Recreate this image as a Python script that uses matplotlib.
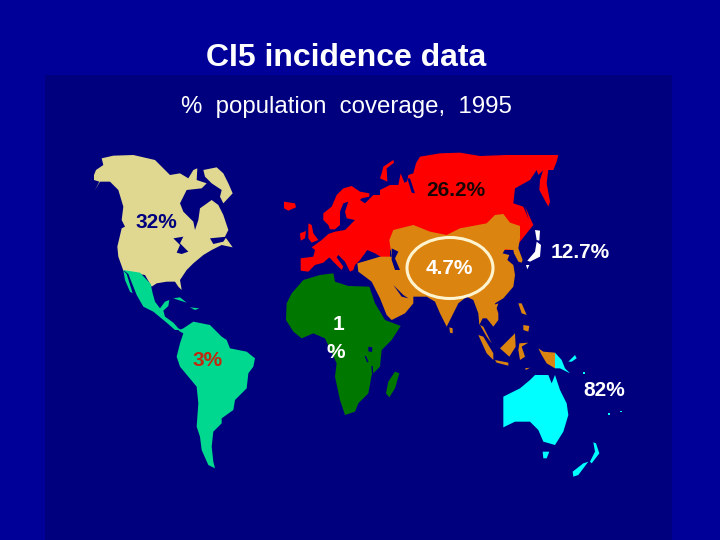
import matplotlib
matplotlib.use("Agg")
import matplotlib.pyplot as plt
from matplotlib.patches import Ellipse, Rectangle

plt.rcParams['font.family'] = ['Liberation Sans', 'DejaVu Sans']

# outlines, in 3x crop coordinates
AMERICAS = (80, 140)
MEXICO = (110, 260)
EUROPE = (280, 170)
SIBERIA = (380, 150)
EURASIA = (270, 140)
PACIFIC = (440, 200)

north_america = [(42, 105), (48, 90), (70, 75), (65, 55), (100, 47), (160, 45), (225, 60), (250, 85), (270, 105),
                 (300, 100), (325, 115), (340, 90), (352, 85), (350, 120), (380, 130), (365, 145), (320, 150),
                 (300, 190), (310, 215), (340, 245), (345, 270), (355, 240), (360, 205), (395, 180), (415, 195),
                 (430, 225), (445, 270), (435, 290), (458, 322), (425, 315), (395, 330), (370, 345), (340, 370),
                 (320, 390), (300, 420), (305, 450), (295, 440), (285, 425), (260, 425), (230, 430), (215, 440),
                 (195, 405), (165, 400), (130, 392), (115, 350), (112, 320), (125, 265), (135, 260), (125, 240),
                 (130, 200), (115, 150), (90, 125), (60, 125), (45, 150), (58, 125), (42, 120)]
baffin = [(370, 90), (410, 82), (430, 100), (445, 130), (458, 160), (430, 190), (420, 170), (425, 150), (395, 130),
          (375, 110)]
great_lakes = [(280, 295), (310, 290), (300, 310), (325, 335), (305, 342), (290, 338), (300, 315)]
st_lawrence = [(390, 295), (440, 290), (430, 305), (400, 312)]
mexico = [(40, 30), (90, 38), (122, 72), (128, 100), (135, 125), (150, 145), (165, 125), (178, 120), (175, 138),
          (160, 152), (165, 170), (190, 188), (205, 205), (215, 210), (195, 210), (170, 188), (130, 155), (100, 140),
          (80, 105), (55, 42)]
baja = [(40, 32), (50, 42), (68, 100), (60, 95), (45, 60)]
cuba = [(190, 115), (210, 112), (230, 128), (205, 120)]
hispaniola = [(240, 142), (268, 145), (255, 150)]
south_america = [(295, 572), (310, 565), (340, 545), (390, 555), (425, 590), (440, 600), (450, 625), (500, 635),
                 (525, 655), (520, 680), (505, 700), (500, 745), (465, 780), (460, 810), (425, 835), (425, 850),
                 (400, 875), (395, 920), (400, 965), (405, 985), (385, 975), (365, 930), (360, 890), (350, 860),
                 (355, 790), (350, 740), (300, 680), (290, 650), (300, 610), (310, 580)]

africa = [(50, 490), (65, 460), (100, 420), (150, 405), (190, 400), (195, 425), (235, 438), (298, 440), (315, 490),
          (345, 540), (392, 558), (365, 600), (335, 630), (330, 680), (305, 705), (295, 760), (265, 790), (255, 815),
          (225, 825), (210, 780), (195, 710), (200, 670), (165, 595), (130, 580), (95, 595), (70, 575), (48, 540)]
madagascar = [(375, 695), (388, 700), (375, 745), (358, 772), (348, 760), (355, 725)]
lake_victoria = [(295, 620), (307, 622), (306, 636), (295, 634)]
lake_tanganyika = [(284, 648), (288, 648), (296, 666), (291, 667)]
lake_malawi = [(304, 678), (308, 678), (310, 702), (306, 702)]

europe = [(62, 302), (62, 265), (100, 260), (105, 240), (95, 232), (125, 210), (145, 192), (165, 185), (195, 180),
          (225, 150), (200, 145), (195, 125), (205, 95), (190, 100), (180, 125), (180, 165), (165, 178), (150, 178),
          (145, 165), (130, 150), (130, 130), (155, 110), (170, 75), (190, 55), (215, 48), (240, 65), (268, 70),
          (268, 80), (245, 85), (240, 90), (255, 100), (280, 75), (300, 75), (320, 55), (345, 50), (370, 40), (390, 30),
          (390, 180), (330, 205), (330, 262), (305, 262), (285, 250), (262, 240), (240, 270), (225, 285), (220, 300),
          (210, 305), (195, 275), (175, 255), (170, 262), (190, 290), (185, 300), (160, 275), (148, 262), (130, 278),
          (105, 285), (85, 305)]
britain = [(85, 160), (95, 165), (100, 190), (115, 210), (95, 218), (85, 205), (85, 185)]
ireland = [(60, 190), (78, 183), (75, 205), (62, 212)]
iceland = [(12, 95), (45, 100), (48, 112), (25, 122), (12, 115)]

siberia = [(0, 120), (30, 105), (55, 105), (62, 70), (78, 110), (85, 75), (100, 70), (108, 40), (120, 20), (180, 10),
           (240, 8), (300, 18), (380, 15), (480, 15), (535, 15), (530, 35), (520, 60), (490, 60), (475, 75),
           (470, 60), (450, 90), (405, 115), (400, 160), (430, 170), (445, 205), (460, 225), (440, 250), (400, 300),
           (0, 300)]
gulf_ob = [(82, 85), (90, 85), (105, 130), (95, 128)]
kamchatka = [(490, 58), (480, 90), (478, 120), (505, 170), (510, 155), (500, 100), (505, 58)]
sakhalin = [(435, 170), (460, 225), (450, 222)]
novaya_zemlya = [(5, 70), (10, 50), (40, 30), (42, 38), (20, 55), (22, 95), (0, 85)]

asia = [(358, 300), (370, 270), (430, 255), (480, 275), (530, 285), (570, 265), (650, 250), (675, 225), (700, 222),
        (720, 248), (750, 258), (750, 295), (745, 325), (758, 360), (755, 368), (745, 365), (732, 340), (730, 330),
        (705, 328), (698, 340), (718, 345), (712, 360), (730, 375), (735, 405), (730, 440), (700, 475), (675, 490),
        (685, 520), (685, 540), (670, 560), (650, 535), (638, 535), (628, 555), (625, 520), (610, 480), (590, 470),
        (565, 490), (530, 560), (510, 520), (495, 485), (470, 470), (430, 470), (430, 490), (405, 520), (365, 540),
        (350, 525), (330, 475), (305, 425), (265, 395), (262, 370), (290, 362), (330, 350), (365, 350)]
caspian = [(365, 325), (385, 335), (375, 355), (390, 390), (375, 390), (365, 360)]
persian_gulf = [(370, 435), (400, 465), (415, 475), (395, 470)]
sri_lanka = [(538, 562), (548, 565), (548, 580), (540, 578)]
malaya = [(630, 555), (640, 560), (665, 610), (650, 590)]
sumatra = [(625, 585), (640, 590), (670, 640), (670, 660), (650, 640)]
borneo = [(690, 625), (735, 580), (737, 620), (718, 650)]
java = [(675, 660), (715, 668), (715, 677), (680, 668)]
sulawesi = [(748, 610), (775, 608), (755, 620), (765, 650), (750, 660), (745, 630)]
luzon = [(745, 490), (755, 490), (770, 525), (755, 520)]
mindanao = [(760, 555), (778, 558), (775, 575), (760, 570)]
hainan = [(672, 495), (685, 490), (680, 505)]

west_new_guinea = [(295, 445), (310, 455), (345, 458), (345, 505), (320, 490), (305, 465)]
timor = [(255, 505), (270, 503), (258, 510)]
papua = [(345, 458), (365, 480), (375, 505), (390, 520), (360, 505), (345, 505)]
new_britain = [(385, 485), (405, 465), (410, 475), (395, 485)]
australia = [(190, 590), (240, 565), (270, 540), (285, 525), (325, 525), (335, 550), (345, 525), (360, 570), (380, 610),
             (385, 645), (370, 695), (345, 735), (310, 725), (295, 690), (270, 665), (225, 665), (190, 682)]
tasmania = [(308, 755), (328, 755), (320, 775), (310, 775)]
nz_north = [(460, 727), (468, 730), (478, 760), (455, 790), (450, 785), (465, 755)]
nz_south = [(445, 785), (415, 825), (400, 830), (398, 815), (430, 790)]
solomon = [(429, 516), (436, 516), (436, 521), (429, 521)]
fiji = [(503, 640), (509, 640), (509, 644), (503, 644)]
samoa = [(540, 632), (547, 632), (547, 636), (540, 636)]
hokkaido = [(285, 90), (300, 92), (298, 122), (290, 120)]
honshu = [(290, 125), (303, 135), (300, 170), (270, 185), (262, 182), (285, 155)]
kyushu = [(258, 195), (268, 195), (262, 208)]

label_text = ['26.2%', '32%', '4.7%', '12.7%', '3%', '1', '%', '82%']
label_x = [456, 156, 449, 580, 208, 339, 336, 604]
label_y = [190, 222, 268, 253, 360, 325, 352, 390]
label_color = ['#1a0505', '#00007f', 'white', 'white', '#c02a10', 'white', 'white', 'white']

OUTER = '#000099'
SEA = '#00007f'
TAN = '#e0d890'
MINT = '#00d890'
RED = '#ff0000'
GREEN = '#007800'
ORANGE = '#dc8410'
CYAN = '#00ffff'

fig = plt.figure(figsize=(7.2, 5.4), dpi=100, facecolor=OUTER)
ax = fig.add_axes([0, 0, 1, 1])
ax.set_xlim(0, 720)
ax.set_ylim(540, 0)
ax.axis('off')
ax.add_patch(Rectangle((45, 75), 627, 465, color=SEA, lw=0))


def draw(points, origin, color):
    xs = [origin[0] + p[0] / 3 for p in points]
    ys = [origin[1] + p[1] / 3 for p in points]
    ax.fill(xs, ys, color=color, lw=0)


for shape in [north_america, baffin]:
    draw(shape, AMERICAS, TAN)
for shape in [great_lakes, st_lawrence]:
    draw(shape, AMERICAS, SEA)
for shape in [mexico, baja, cuba, hispaniola]:
    draw(shape, MEXICO, MINT)
draw(south_america, AMERICAS, MINT)

for shape in [europe, britain, ireland, iceland]:
    draw(shape, EUROPE, RED)
for shape in [siberia, kamchatka, sakhalin, novaya_zemlya]:
    draw(shape, SIBERIA, RED)
draw(gulf_ob, SIBERIA, SEA)
for shape in [africa, madagascar]:
    draw(shape, EURASIA, GREEN)
for shape in [lake_victoria, lake_tanganyika, lake_malawi]:
    draw(shape, EURASIA, SEA)
for shape in [asia, sri_lanka, malaya, sumatra, borneo, java, sulawesi, luzon, mindanao, hainan]:
    draw(shape, EURASIA, ORANGE)
for shape in [caspian, persian_gulf]:
    draw(shape, EURASIA, SEA)

for shape in [west_new_guinea, timor]:
    draw(shape, PACIFIC, ORANGE)
for shape in [papua, new_britain, australia, tasmania, nz_north, nz_south, solomon, fiji, samoa]:
    draw(shape, PACIFIC, CYAN)
for shape in [hokkaido, honshu, kyushu]:
    draw(shape, PACIFIC, 'white')

ax.add_patch(Ellipse((450, 268), 86, 61, fill=False, ec='#fff4d0', lw=2.2))

ax.text(346, 58, 'CI5 incidence data', color='white', fontsize=23, fontweight='bold', ha='center', va='center')
ax.text(346, 107, '%  population  coverage,  1995', color='white', fontsize=17.3, ha='center', va='center')
for text, x, y, color in zip(label_text, label_x, label_y, label_color):
    ax.text(x, y, text, color=color, fontsize=15, fontweight='bold', ha='center', va='center')

fig.savefig('out.png', dpi=100, facecolor=OUTER)
